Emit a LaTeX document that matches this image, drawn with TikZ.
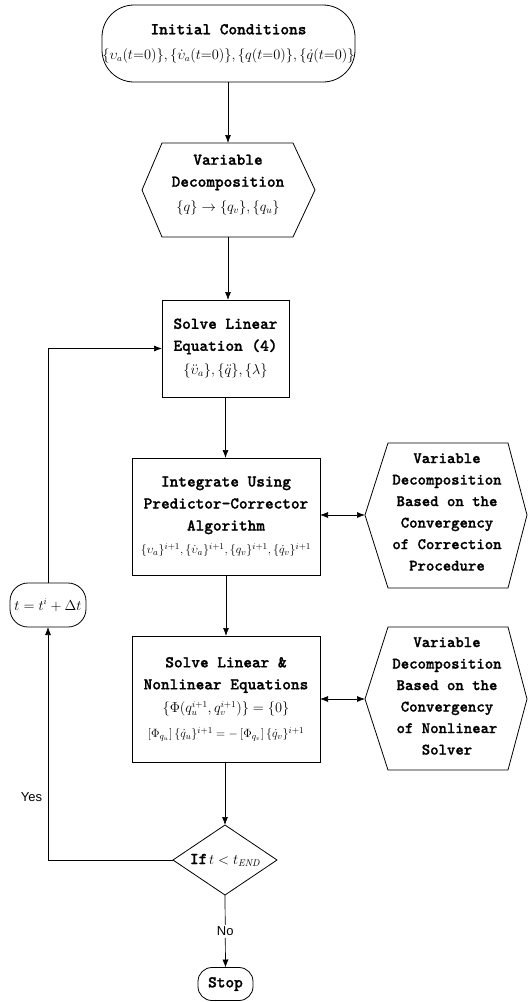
\documentclass[tikz,border=0pt]{standalone}
\usepackage{amsmath}
\usepackage{fontspec}
\usetikzlibrary{arrows.meta,shapes.geometric}
\newfontfamily\labsans{Liberation Sans}
\newfontfamily\monob{lmmonolt10-bold.otf}[FakeBold=1.2]
\newcommand{\tb}{\monob}
\newcommand{\fm}{\fontsize{13.5}{16}\selectfont}
\newcommand{\vb}{\upsilon}
\begin{document}
\begin{tikzpicture}[x=1pt,y=-1pt,
  every node/.style={inner sep=0pt, outer sep=0pt},
  tt/.style={font=\tb\fontsize{16.5}{22}\selectfont, align=center},
  box/.style={draw, line width=0.8pt, tt},
  shp/.style={draw, line width=0.8pt, line join=miter},
  arr/.style={line width=0.7pt, -{Latex[length=8pt,width=6pt]}},
  darr/.style={line width=0.7pt, {Latex[length=8pt,width=6pt]}-{Latex[length=8pt,width=6pt]}},
  lab/.style={font=\labsans\fontsize{13}{15}\selectfont}
]
\useasboundingbox (0,0) rectangle (529,1002);

% Initial conditions
\node[draw, line width=0.8pt, rounded corners=32pt, minimum width=253, minimum height=77, tt] (init) at (228.5,43.5)
  {Initial Conditions\\[3pt]{\fontsize{13.5}{16}\selectfont$\{\vb_a(t{=}0)\},\{\dot{\vb}_a(t{=}0)\},\{q(t{=}0)\},\{\dot{q}(t{=}0)\}$}};

% Variable decomposition hexagon
\draw[shp] (162,143) -- (293,143) -- (315,190) -- (293,237) -- (162,237) -- (142,190) -- cycle;
\node[tt] (vd) at (228,185) {Variable\\Decomposition\\[3pt]{\fontsize{14}{16}\selectfont$\{q\}\rightarrow\{q_v\},\{q_u\}$}};
\coordinate (vd-n) at (228,143);
\coordinate (vd-s) at (228,237);

% Solve linear equation
\node[box, minimum width=127, minimum height=97] (sle) at (225.5,348.5)
  {Solve Linear\\Equation (4)\\[2pt]{\fontsize{14}{16}\selectfont$\{\ddot{\vb}_a\},\{\ddot{q}\},\{\lambda\}$}};

% Integrate
\node[box, minimum width=188, minimum height=117] (intg) at (226,516.5)
  {Integrate Using\\Predictor-Corrector\\Algorithm\\[1pt]{\fontsize{13}{16}\selectfont$\{\vb_a\}^{i+1},\{\dot{\vb}_a\}^{i+1},\{q_v\}^{i+1},\{\dot{q}_v\}^{i+1}$}};

% Solve linear & nonlinear
\node[box, minimum width=188, minimum height=126] (slnl) at (226,699)
  {Solve Linear \&\\Nonlinear Equations\\[1pt]{\fm$\left\{\Phi\!\left(q_u^{i+1},q_v^{i+1}\right)\right\}=\{0\}$}\\[3pt]
   {\fontsize{13}{16}\selectfont$\left[\Phi_{q_u}\right]\{\dot{q}_u\}^{i+1}=-\left[\Phi_{q_v}\right]\{\dot{q}_v\}^{i+1}$}};

% Right hexagons
\draw[shp] (388,443) -- (508,443) -- (527,515) -- (508,588) -- (388,588) -- (365,515) -- cycle;
\coordinate (h1-w) at (365,515);
\node[font=\tb\fontsize{16}{21.5}\selectfont, align=center] (h1) at (447,512)
  {Variable\\Decomposition\\Based on the\\Convergency\\of Correction\\Procedure};

\draw[shp] (388,627) -- (508,627) -- (527,699) -- (508,770) -- (388,770) -- (365,699) -- cycle;
\coordinate (h2-w) at (365,699);
\node[font=\tb\fontsize{16}{21.5}\selectfont, align=center] (h2) at (447,696)
  {Variable\\Decomposition\\Based on the\\Convergency\\of Nonlinear\\Solver};

% Diamond
\node[draw, line width=0.8pt, diamond, minimum width=104, minimum height=70, aspect=1.49] (dec) at (225,860)
  {{\tb\fontsize{16.5}{18}\selectfont If}\,{\fontsize{14}{16}\selectfont$t<t_{\mathit{END}}$}};

% Stop
\node[draw, line width=0.8pt, rounded corners=14pt, minimum width=55, minimum height=33, tt] (stop) at (225.5,984) {Stop};

% t = t^i + dt
\node[draw, line width=0.8pt, rounded corners=18pt, minimum width=76, minimum height=44] (tup) at (48,605)
  {\fontsize{13.5}{16}\selectfont$t=t^{i}+\Delta t$};

% Connectors
\draw[arr] (init.south -| vd-n) -- (vd-n);
\draw[arr] (vd-s) -- (vd-s |- sle.north);
\draw[arr] (sle.south) -- (sle.south |- intg.north);
\draw[arr] (intg.south) -- (slnl.north);
\draw[arr] (slnl.south -| dec.north) -- (dec.north);
\draw[arr] (dec.south) -- node[fill=white, lab, inner sep=2pt] {No} (stop.north);
\draw[darr] (intg.east |- h1-w) -- (h1-w);
\draw[darr] (slnl.east |- h2-w) -- (h2-w);
\draw[arr] (dec.west) -| node[pos=0.635, left=6pt, lab] {Yes} (tup.south);
\draw[arr] (tup.north) |- (sle.west);
\end{tikzpicture}
\end{document}
